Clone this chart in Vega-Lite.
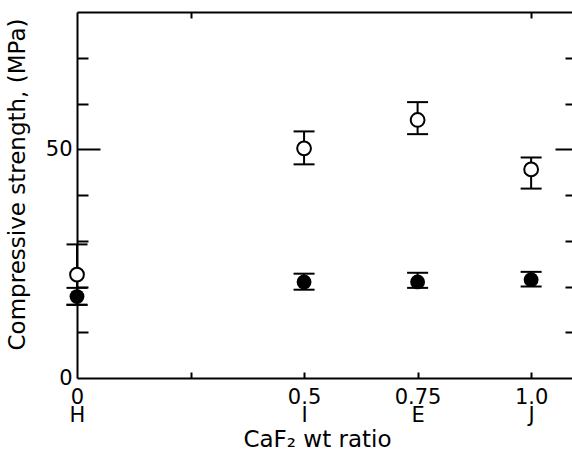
{
  "$schema": "https://vega.github.io/schema/vega-lite/v6.json",
  "autosize": {"type": "none"},
  "padding": {"left": 77, "top": 12, "right": 0, "bottom": 85},
  "width": 495,
  "height": 366,
  "background": "white",
  "config": {
    "view": {"stroke": null},
    "font": "DejaVu Sans",
    "axis": {
      "domainColor": "black",
      "domainWidth": 2,
      "tickColor": "black",
      "tickWidth": 2,
      "labelColor": "black",
      "titleColor": "black",
      "labelFont": "DejaVu Sans",
      "titleFont": "DejaVu Sans",
      "labelFontSize": 21,
      "titleFontSize": 23,
      "titleFontWeight": "normal",
      "grid": false
    }
  },
  "data": {
    "values": [
      {"ratio": 0, "series": "open", "mean": 22.6, "lo": 16.0, "hi": 29.2},
      {"ratio": 0.5, "series": "open", "mean": 50.2, "lo": 46.7, "hi": 53.9},
      {"ratio": 0.75, "series": "open", "mean": 56.4, "lo": 53.3, "hi": 60.3},
      {"ratio": 1.0, "series": "open", "mean": 45.6, "lo": 41.4, "hi": 48.2},
      {"ratio": 0, "series": "filled", "mean": 17.8, "lo": 16.0, "hi": 19.7},
      {"ratio": 0.5, "series": "filled", "mean": 21.0, "lo": 19.3, "hi": 22.8},
      {"ratio": 0.75, "series": "filled", "mean": 21.0, "lo": 19.7, "hi": 23.0},
      {"ratio": 1.0, "series": "filled", "mean": 21.5, "lo": 20.0, "hi": 23.2}
    ]
  },
  "resolve": {"axis": {"x": "independent", "y": "independent"}},
  "layer": [
    {
      "mark": {"type": "rule", "color": "black", "strokeWidth": 2},
      "encoding": {
        "x": {"field": "ratio", "type": "quantitative",
          "scale": {"domain": [0, 1.09], "nice": false, "zero": false},
          "axis": {"orient": "bottom", "values": [0, 0.5, 0.75, 1], "ticks": false,
            "labelPadding": 8, "labelLineHeight": 18, "labelFlush": false, "labelOverlap": false,
            "labelExpr": "datum.value == 0 ? ['0','H'] : datum.value == 0.5 ? ['0.5','I'] : datum.value == 0.75 ? ['0.75','E'] : ['1.0','J']",
            "title": "CaF₂ wt ratio", "titleX": 240, "titleY": 68, "titleAlign": "center", "titleBaseline": "alphabetic"}},
        "y": {"field": "lo", "type": "quantitative",
          "scale": {"domain": [0, 80], "nice": false, "zero": false},
          "axis": {"orient": "left", "values": [0, 50], "ticks": false, "labelPadding": 5,
            "labelFlush": false, "labelOverlap": false, "title": "Compressive strength, (MPa)",
            "titleX": -53, "titleY": 172, "titleAlign": "center", "titleBaseline": "alphabetic", "titleAngle": 270}},
        "y2": {"field": "hi"}
      }
    },
    {
      "mark": {"type": "tick", "orient": "horizontal", "color": "black", "thickness": 2, "size": 21, "opacity": 1},
      "encoding": {
        "x": {"field": "ratio", "type": "quantitative",
          "scale": {"domain": [0, 1.09], "nice": false, "zero": false},
          "axis": {"orient": "bottom", "values": [0.25, 0.5, 0.75, 1], "tickSize": -6,
            "labels": false, "domain": false, "title": null}},
        "y": {"field": "lo", "type": "quantitative",
          "scale": {"domain": [0, 80], "nice": false, "zero": false},
          "axis": {"orient": "left", "values": [10, 20, 30, 40, 60, 70], "tickSize": -11,
            "labels": false, "domain": false, "title": null}}
      }
    },
    {
      "mark": {"type": "tick", "orient": "horizontal", "color": "black", "thickness": 2, "size": 21, "opacity": 1},
      "encoding": {
        "x": {"field": "ratio", "type": "quantitative",
          "scale": {"domain": [0, 1.09], "nice": false, "zero": false},
          "axis": {"orient": "top", "values": [0.25, 1], "tickSize": -6,
            "labels": false, "domain": true, "title": null}},
        "y": {"field": "hi", "type": "quantitative",
          "scale": {"domain": [0, 80], "nice": false, "zero": false},
          "axis": {"orient": "left", "values": [50], "tickSize": -23,
            "labels": false, "domain": false, "title": null}}
      }
    },
    {
      "transform": [{"filter": "datum.series == 'open'"}],
      "mark": {"type": "point", "shape": "circle", "filled": false, "fill": "white", "fillOpacity": 1, "stroke": "black", "strokeWidth": 2, "size": 190, "opacity": 1},
      "encoding": {
        "x": {"field": "ratio", "type": "quantitative",
          "scale": {"domain": [0, 1.09], "nice": false, "zero": false}, "axis": null},
        "y": {"field": "mean", "type": "quantitative",
          "scale": {"domain": [0, 80], "nice": false, "zero": false},
          "axis": {"orient": "right", "values": [10, 20, 30, 40, 60, 70], "tickSize": -7,
            "labels": false, "domain": false, "title": null}}
      }
    },
    {
      "transform": [{"filter": "datum.series == 'filled'"}],
      "mark": {"type": "point", "shape": "circle", "filled": true, "color": "black", "size": 220, "opacity": 1},
      "encoding": {
        "x": {"field": "ratio", "type": "quantitative",
          "scale": {"domain": [0, 1.09], "nice": false, "zero": false}, "axis": null},
        "y": {"field": "mean", "type": "quantitative",
          "scale": {"domain": [0, 80], "nice": false, "zero": false},
          "axis": {"orient": "right", "values": [50], "tickSize": -17,
            "labels": false, "domain": false, "title": null}}
      }
    }
  ]
}
